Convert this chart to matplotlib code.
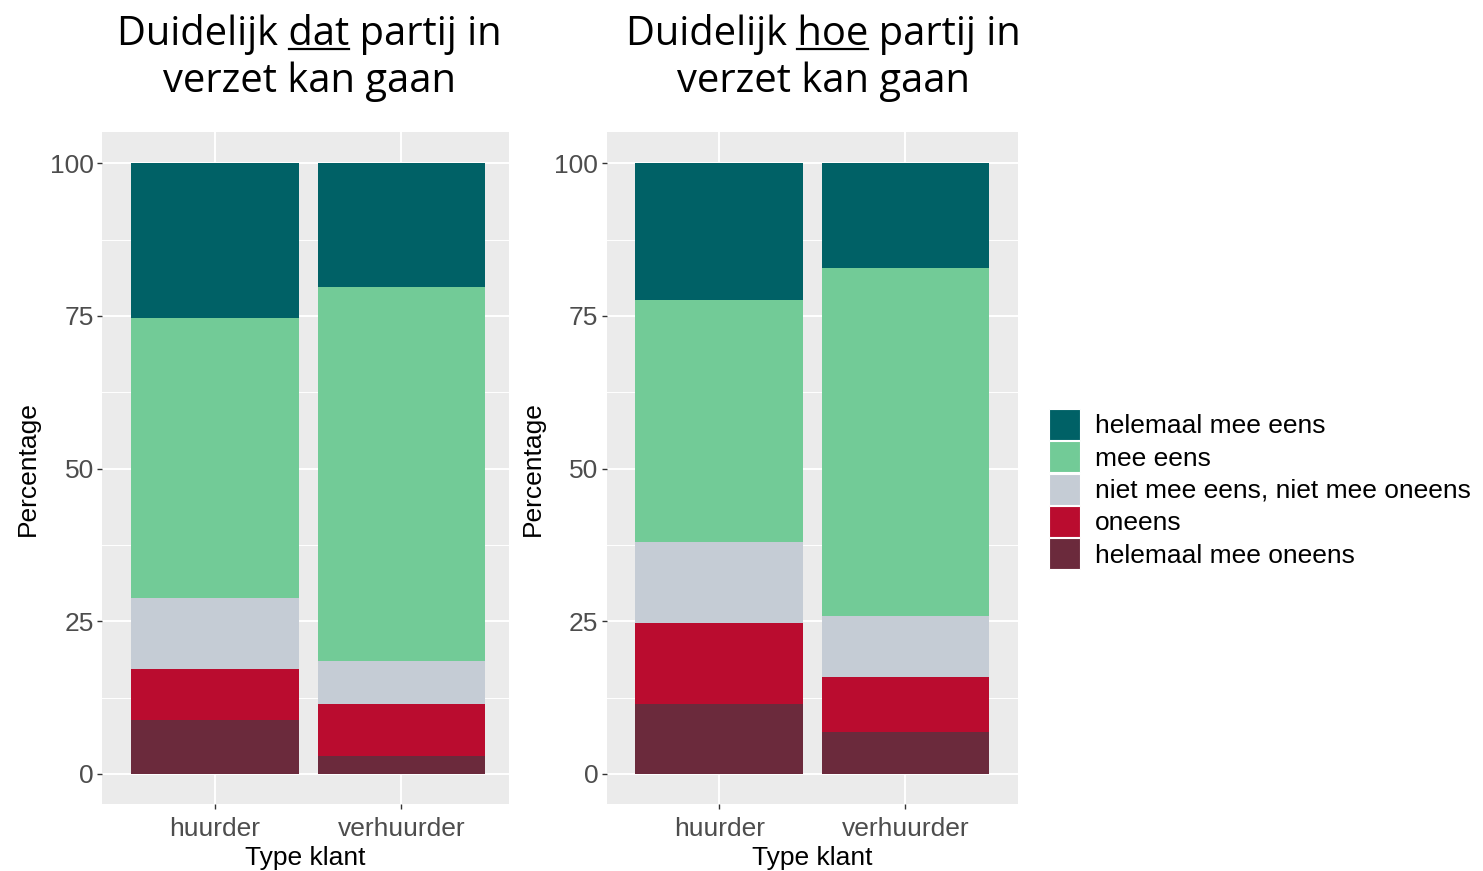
import matplotlib
matplotlib.use('Agg')
import matplotlib.pyplot as plt
import numpy as np
from matplotlib.patches import Patch

categories = ['huurder', 'verhuurder']
levels = ['helemaal mee oneens', 'oneens', 'niet mee eens, niet mee oneens',
          'mee eens', 'helemaal mee eens']
level_colors = ['#6B2A3C', '#BA0C2F', '#C5CCD5', '#72CB97', '#006166']

# Panel 1: Duidelijk dat partij in verzet kan gaan (bottom -> top order)
dat_helemaal_oneens = [8.9, 2.9]
dat_oneens = [8.3, 8.6]
dat_neutraal = [11.6, 7.0]
dat_mee_eens = [45.8, 61.3]
dat_helemaal_eens = [25.4, 20.2]

# Panel 2: Duidelijk hoe partij in verzet kan gaan
hoe_helemaal_oneens = [11.4, 6.8]
hoe_oneens = [13.3, 9.0]
hoe_neutraal = [13.3, 10.0]
hoe_mee_eens = [39.6, 57.0]
hoe_helemaal_eens = [22.4, 17.2]

yticks = [0, 25, 50, 75, 100]

W, H = 1483, 871
fig = plt.figure(figsize=(W / 100, H / 100), dpi=100)

panels = [
    dict(rect=[102.3, 132.3, 509, 804], xlim=(0.397, 2.576), tcx=309.5,
         title=('Duidelijk ', 'dat', ' partij in'),
         data=[dat_helemaal_oneens, dat_oneens, dat_neutraal, dat_mee_eens, dat_helemaal_eens]),
    dict(rect=[606.7, 132.3, 1017.7, 804], xlim=(0.396, 2.604), tcx=823.0,
         title=('Duidelijk ', 'hoe', ' partij in'),
         data=[hoe_helemaal_oneens, hoe_oneens, hoe_neutraal, hoe_mee_eens, hoe_helemaal_eens]),
]

tick_color = '#4D4D4D'
fs = 19
axes = []
for p in panels:
    x0, y0, x1, y1 = p['rect']
    ax = fig.add_axes([x0 / W, 1 - y1 / H, (x1 - x0) / W, (y1 - y0) / H])
    axes.append(ax)
    ax.set_facecolor('#EBEBEB')
    xs = np.arange(1, len(categories) + 1)
    bottom = np.zeros(len(categories))
    for vals, col in zip(p['data'], level_colors):
        ax.bar(xs, vals, width=0.9, bottom=bottom, color=col, zorder=3, linewidth=0)
        bottom += np.array(vals)
    ax.set_xlim(*p['xlim'])
    ax.set_ylim(-4.92, 105.08)
    ax.set_xticks(xs)
    ax.set_xticklabels(categories)
    ax.set_yticks(yticks)
    ax.set_yticklabels([str(t) for t in yticks])
    ax.set_yticks([12.5, 37.5, 62.5, 87.5], minor=True)
    ax.grid(which='major', color='white', linewidth=1.4, zorder=0)
    ax.grid(which='minor', axis='y', color='white', linewidth=0.7, zorder=0)
    ax.set_axisbelow(True)
    for s in ax.spines.values():
        s.set_visible(False)
    ax.tick_params(axis='both', which='major', colors='#333333', length=3.6, width=1,
                   labelsize=fs, labelcolor=tick_color, pad=2.5)
    ax.tick_params(axis='x', which='major', pad=5.4)
    ax.tick_params(axis='y', which='minor', length=0)
    for lab in ax.get_xticklabels() + ax.get_yticklabels():
        lab.set_fontfamily('Liberation Sans')
    ax.set_ylabel('Percentage', fontsize=fs, family='Liberation Sans', color='black', labelpad=7)
    ax.set_xlabel('Type klant', fontsize=fs, family='Liberation Sans', color='black', labelpad=4.3)

# Titles with underlined word
fig.canvas.draw()
renderer = fig.canvas.get_renderer()
title_fs = 28.7
title_font = 'Open Sans'


def text_width(s):
    t = fig.text(0, 0, s, fontsize=title_fs, family=title_font)
    bb = t.get_window_extent(renderer)
    t.remove()
    return bb.width


for p, ax in zip(panels, axes):
    cx = p['tcx']
    pre, word, post = p['title']
    line1 = pre + word + post
    base1 = H - 45
    base2 = H - 91.5
    fig.text(cx / W, base1 / H, line1, fontsize=title_fs, family=title_font,
             ha='center', va='baseline')
    fig.text(cx / W, base2 / H, 'verzet kan gaan', fontsize=title_fs, family=title_font,
             ha='center', va='baseline')
    full_w = text_width(line1)
    start = cx - full_w / 2
    w_pre_word = text_width(pre + word)
    w_word = text_width(word)
    ux0 = start + w_pre_word - w_word
    ux1 = start + w_pre_word
    uy = base1 - 4.5
    fig.add_artist(plt.Line2D([ux0 / W, ux1 / W], [uy / H, uy / H], color='black',
                              linewidth=1.6, transform=fig.transFigure))

# Legend
handles = [Patch(facecolor=c, edgecolor='white', linewidth=0.8) for c in level_colors[::-1]]
leg = fig.legend(handles, levels[::-1], loc='upper left',
                 bbox_to_anchor=(1049 / W, 1 - 409 / H), frameon=False,
                 prop={'family': 'Liberation Sans', 'size': fs},
                 handlelength=1.18, handleheight=1.43, handletextpad=0.57,
                 labelspacing=0.05, borderaxespad=0, borderpad=0)

fig.savefig('out.png', dpi=100)
